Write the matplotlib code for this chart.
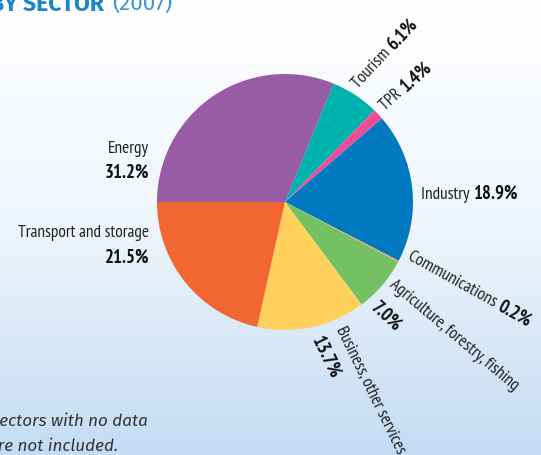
import numpy as np
import matplotlib
matplotlib.use("Agg")
import matplotlib.pyplot as plt
from matplotlib.colors import LinearSegmentedColormap

sectors = ["Tourism", "TPR", "Industry", "Communications",
           "Agriculture, forestry, fishing", "Business, other services",
           "Transport and storage", "Energy"]
shares = [6.1, 1.4, 18.9, 0.2, 7.0, 13.7, 21.5, 31.2]
colors = ["#00b2ad", "#ec4f98", "#0079c1", "#f7a15a", "#74c164",
          "#ffd15c", "#f26632", "#985ba6"]

FONT = ["PT Sans Narrow", "Fira Sans Condensed", "DejaVu Sans"]
plt.rcParams['font.family'] = FONT
SANS = ["Fira Sans", "DejaVu Sans"]

W, H = 541, 455
fig = plt.figure(figsize=(W / 100, H / 100), dpi=100)

# background gradient
bg = fig.add_axes([0, 0, 1, 1])
cmap = LinearSegmentedColormap.from_list("bg", ["#ffffff", "#eef5fc", "#c3dcf3"])
grad = np.linspace(0, 1, 256).reshape(-1, 1)
bg.imshow(grad, aspect="auto", cmap=cmap, extent=[0, 1, 0, 1], origin="upper")
bg.axis("off")

ax = fig.add_axes([0, 0, 1, 1])
cx, cy, R = 285, H - 202, 128
ax.pie(shares, colors=colors, startangle=67.7, counterclock=False,
       center=(cx, cy), radius=R, frame=True,
       wedgeprops=dict(linewidth=0))
ax.set_xlim(0, W)
ax.set_ylim(0, H)
ax.set_aspect("equal")
ax.axis("off")

def P(x, y):
    return x, H - y

fs = 12.5
fsb = 13.5
dark = "#222222"
black = "#111111"

def lbl(i):
    return f"{shares[i]:.1f}%"

r = fig.canvas.get_renderer()

def mixed(x, y, name, val, rot, va="center"):
    t1 = ax.text(x, y, name + " ", ha="left", va=va, rotation=0,
                 rotation_mode="anchor", fontsize=fs, color=dark)
    w = t1.get_window_extent(r).width
    t1.set_rotation(rot)
    th = np.deg2rad(rot)
    x2 = x + w * np.cos(th)
    y2 = y + w * np.sin(th)
    ax.text(x2, y2, val, ha="left", va=va, rotation=rot, rotation_mode="anchor",
            fontsize=fsb, color=black, fontweight="bold")

# Energy
ax.text(*P(149, 153), sectors[7], ha="right", va="baseline", fontsize=fs, color=dark)
ax.text(*P(149, 178), lbl(7), ha="right", va="baseline", fontsize=fsb, color=black, fontweight="bold")
# Transport
ax.text(*P(149, 237), sectors[6], ha="right", va="baseline", fontsize=fs, color=dark)
ax.text(*P(149, 263), lbl(6), ha="right", va="baseline", fontsize=fsb, color=black, fontweight="bold")
# Industry
mixed(*P(421, 199), sectors[2], lbl(2), 0, va="baseline")
# Tourism, TPR
mixed(*P(358, 89), sectors[0], lbl(0), 47, va="baseline")
mixed(*P(385, 111), sectors[1], lbl(1), 42, va="baseline")
# Communications
mixed(*P(409, 256), sectors[3], lbl(3), -29)
# Agriculture
ax.text(*P(391, 283), sectors[4], ha="left", va="center", rotation=-40,
        rotation_mode="anchor", fontsize=fs, color=dark)
ax.text(*P(374, 305), lbl(4), ha="left", va="center", rotation=-43,
        rotation_mode="anchor", fontsize=fsb, color=black, fontweight="bold")
# Business
ax.text(*P(340, 327), sectors[5], ha="left", va="center", rotation=-64,
        rotation_mode="anchor", fontsize=fs, color=dark)
ax.text(*P(316, 337), lbl(5), ha="left", va="center", rotation=-64,
        rotation_mode="anchor", fontsize=fsb, color=black, fontweight="bold")

# Title (cropped at the left and top)
ax.text(*P(104, 11), "BY SECTOR", ha="right", va="baseline", fontsize=16.5,
        color="#1a86c8", fontweight="bold", family=SANS)
ax.text(*P(112, 11), "(2007)", ha="left", va="baseline", fontsize=16,
        color="#3a96d2", family=SANS)

# footnote (cropped at the left)
ax.text(*P(148, 426), "Sectors with no data", ha="right", va="baseline",
        fontsize=12.3, color="#333333", style="italic", family=SANS)
ax.text(*P(118, 451), "are not included.", ha="right", va="baseline",
        fontsize=12.3, color="#333333", style="italic", family=SANS)

fig.savefig("out.png", dpi=100)
